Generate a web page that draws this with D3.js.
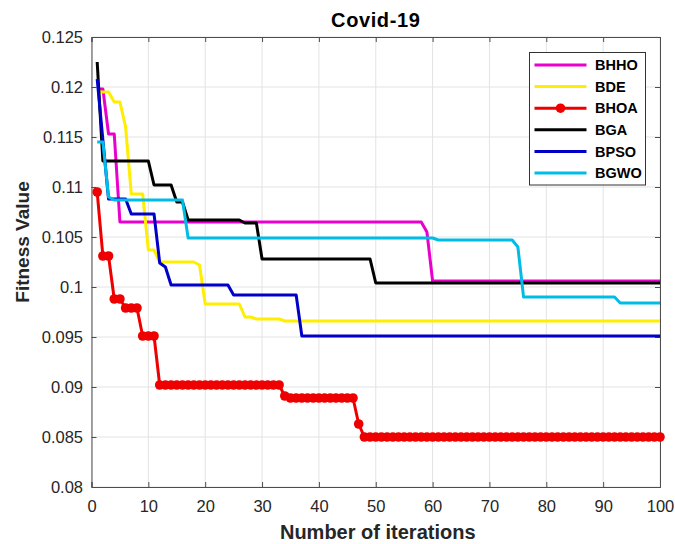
<!DOCTYPE html>
<html>
<head>
<meta charset="utf-8">
<script src="https://cdn.jsdelivr.net/npm/d3@7"></script>
<style>
  body { margin: 0; background: #fff; }
  svg { font-family: "Liberation Sans", Arial, sans-serif; }
</style>
</head>
<body>
<div id="chart"></div>
<script>
// fitness value per iteration (1..100)
var bhho = [
  0.1198,0.1198,0.1153,0.1153,0.1065,0.1065,0.1065,0.1065,0.1065,0.1065,
  0.1065,0.1065,0.1065,0.1065,0.1065,0.1065,0.1065,0.1065,0.1065,0.1065,
  0.1065,0.1065,0.1065,0.1065,0.1065,0.1065,0.1065,0.1065,0.1065,0.1065,
  0.1065,0.1065,0.1065,0.1065,0.1065,0.1065,0.1065,0.1065,0.1065,0.1065,
  0.1065,0.1065,0.1065,0.1065,0.1065,0.1065,0.1065,0.1065,0.1065,0.1065,
  0.1065,0.1065,0.1065,0.1065,0.1065,0.1065,0.1065,0.1065,0.1055,0.1006,
  0.1006,0.1006,0.1006,0.1006,0.1006,0.1006,0.1006,0.1006,0.1006,0.1006,
  0.1006,0.1006,0.1006,0.1006,0.1006,0.1006,0.1006,0.1006,0.1006,0.1006,
  0.1006,0.1006,0.1006,0.1006,0.1006,0.1006,0.1006,0.1006,0.1006,0.1006,
  0.1006,0.1006,0.1006,0.1006,0.1006,0.1006,0.1006,0.1006,0.1006,0.1006
];
var bde = [
  0.1195,0.1195,0.1195,0.1185,0.1185,0.1160,0.1093,0.1093,0.1093,0.1037,
  0.1037,0.1025,0.1025,0.1025,0.1025,0.1025,0.1025,0.1025,0.1022,0.0983,
  0.0983,0.0983,0.0983,0.0983,0.0983,0.0983,0.0970,0.0970,0.0968,0.0968,
  0.0968,0.0968,0.0968,0.0966,0.0966,0.0966,0.0966,0.0966,0.0966,0.0966,
  0.0966,0.0966,0.0966,0.0966,0.0966,0.0966,0.0966,0.0966,0.0966,0.0966,
  0.0966,0.0966,0.0966,0.0966,0.0966,0.0966,0.0966,0.0966,0.0966,0.0966,
  0.0966,0.0966,0.0966,0.0966,0.0966,0.0966,0.0966,0.0966,0.0966,0.0966,
  0.0966,0.0966,0.0966,0.0966,0.0966,0.0966,0.0966,0.0966,0.0966,0.0966,
  0.0966,0.0966,0.0966,0.0966,0.0966,0.0966,0.0966,0.0966,0.0966,0.0966,
  0.0966,0.0966,0.0966,0.0966,0.0966,0.0966,0.0966,0.0966,0.0966,0.0966
];
var bhoa = [
  0.1095,0.1031,0.1031,0.0988,0.0988,0.0979,0.0979,0.0979,0.0951,0.0951,
  0.0951,0.0902,0.0902,0.0902,0.0902,0.0902,0.0902,0.0902,0.0902,0.0902,
  0.0902,0.0902,0.0902,0.0902,0.0902,0.0902,0.0902,0.0902,0.0902,0.0902,
  0.0902,0.0902,0.0902,0.0891,0.0889,0.0889,0.0889,0.0889,0.0889,0.0889,
  0.0889,0.0889,0.0889,0.0889,0.0889,0.0889,0.0863,0.0850,0.0850,0.0850,
  0.0850,0.0850,0.0850,0.0850,0.0850,0.0850,0.0850,0.0850,0.0850,0.0850,
  0.0850,0.0850,0.0850,0.0850,0.0850,0.0850,0.0850,0.0850,0.0850,0.0850,
  0.0850,0.0850,0.0850,0.0850,0.0850,0.0850,0.0850,0.0850,0.0850,0.0850,
  0.0850,0.0850,0.0850,0.0850,0.0850,0.0850,0.0850,0.0850,0.0850,0.0850,
  0.0850,0.0850,0.0850,0.0850,0.0850,0.0850,0.0850,0.0850,0.0850,0.0850
];
var bga = [
  0.1225,0.1126,0.1126,0.1126,0.1126,0.1126,0.1126,0.1126,0.1126,0.1126,
  0.1102,0.1102,0.1102,0.1102,0.1085,0.1085,0.1067,0.1067,0.1067,0.1067,
  0.1067,0.1067,0.1067,0.1067,0.1067,0.1067,0.1064,0.1064,0.1064,0.1028,
  0.1028,0.1028,0.1028,0.1028,0.1028,0.1028,0.1028,0.1028,0.1028,0.1028,
  0.1028,0.1028,0.1028,0.1028,0.1028,0.1028,0.1028,0.1028,0.1028,0.1004,
  0.1004,0.1004,0.1004,0.1004,0.1004,0.1004,0.1004,0.1004,0.1004,0.1004,
  0.1004,0.1004,0.1004,0.1004,0.1004,0.1004,0.1004,0.1004,0.1004,0.1004,
  0.1004,0.1004,0.1004,0.1004,0.1004,0.1004,0.1004,0.1004,0.1004,0.1004,
  0.1004,0.1004,0.1004,0.1004,0.1004,0.1004,0.1004,0.1004,0.1004,0.1004,
  0.1004,0.1004,0.1004,0.1004,0.1004,0.1004,0.1004,0.1004,0.1004,0.1004
];
var bpso = [
  0.1208,0.1147,0.1088,0.1088,0.1088,0.1088,0.1073,0.1073,0.1073,0.1073,
  0.1073,0.1024,0.1020,0.1002,0.1002,0.1002,0.1002,0.1002,0.1002,0.1002,
  0.1002,0.1002,0.1002,0.1002,0.0992,0.0992,0.0992,0.0992,0.0992,0.0992,
  0.0992,0.0992,0.0992,0.0992,0.0992,0.0992,0.0951,0.0951,0.0951,0.0951,
  0.0951,0.0951,0.0951,0.0951,0.0951,0.0951,0.0951,0.0951,0.0951,0.0951,
  0.0951,0.0951,0.0951,0.0951,0.0951,0.0951,0.0951,0.0951,0.0951,0.0951,
  0.0951,0.0951,0.0951,0.0951,0.0951,0.0951,0.0951,0.0951,0.0951,0.0951,
  0.0951,0.0951,0.0951,0.0951,0.0951,0.0951,0.0951,0.0951,0.0951,0.0951,
  0.0951,0.0951,0.0951,0.0951,0.0951,0.0951,0.0951,0.0951,0.0951,0.0951,
  0.0951,0.0951,0.0951,0.0951,0.0951,0.0951,0.0951,0.0951,0.0951,0.0951
];
var bgwo = [
  0.1145,0.1145,0.1090,0.1087,0.1087,0.1087,0.1087,0.1087,0.1087,0.1087,
  0.1087,0.1087,0.1087,0.1087,0.1087,0.1087,0.1049,0.1049,0.1049,0.1049,
  0.1049,0.1049,0.1049,0.1049,0.1049,0.1049,0.1049,0.1049,0.1049,0.1049,
  0.1049,0.1049,0.1049,0.1049,0.1049,0.1049,0.1049,0.1049,0.1049,0.1049,
  0.1049,0.1049,0.1049,0.1049,0.1049,0.1049,0.1049,0.1049,0.1049,0.1049,
  0.1049,0.1049,0.1049,0.1049,0.1049,0.1049,0.1049,0.1049,0.1049,0.1049,
  0.1047,0.1047,0.1047,0.1047,0.1047,0.1047,0.1047,0.1047,0.1047,0.1047,
  0.1047,0.1047,0.1047,0.1047,0.1040,0.0990,0.0990,0.0990,0.0990,0.0990,
  0.0990,0.0990,0.0990,0.0990,0.0990,0.0990,0.0990,0.0990,0.0990,0.0990,
  0.0990,0.0990,0.0984,0.0984,0.0984,0.0984,0.0984,0.0984,0.0984,0.0984
];

var seriesNames = ["BHHO", "BDE", "BHOA", "BGA", "BPSO", "BGWO"];
var seriesValues = [bhho, bde, bhoa, bga, bpso, bgwo];
var seriesColors = ["#ea00cc", "#ffee00", "#ee0000", "#000000", "#0000c8", "#00bde6"];
var xTicks = [0, 10, 20, 30, 40, 50, 60, 70, 80, 90, 100];
var yTicks = [0.08, 0.085, 0.09, 0.095, 0.1, 0.105, 0.11, 0.115, 0.12, 0.125];

const W = 675, H = 544;
const margin = {left: 91.5, right: 15, top: 37, bottom: 57};

var svg = d3.select("#chart").append("svg")
  .attr("width", W).attr("height", H);

var x = d3.scaleLinear().domain([0, 100]).range([margin.left, W - margin.right]);
var y = d3.scaleLinear().domain([0.08, 0.125]).range([H - margin.bottom, margin.top]);

// grid
var grid = svg.append("g");
grid.selectAll(".gx").data(xTicks).join("line")
  .attr("x1", d => x(d)).attr("x2", d => x(d))
  .attr("y1", y(0.08)).attr("y2", y(0.125))
  .attr("stroke", "#e3e3e3").attr("stroke-width", 1);
grid.selectAll(".gy").data(yTicks).join("line")
  .attr("x1", x(0)).attr("x2", x(100))
  .attr("y1", d => y(d)).attr("y2", d => y(d))
  .attr("stroke", "#e3e3e3").attr("stroke-width", 1);

// axes
var fmt = d => String(+d.toFixed(3));
var axisColor = "#262626";
var gx = svg.append("g").attr("transform", `translate(0,${y(0.08)})`)
  .call(d3.axisBottom(x).tickValues(xTicks).tickSize(-5).tickPadding(13));
var gy = svg.append("g").attr("transform", `translate(${x(0)},0)`)
  .call(d3.axisLeft(y).tickValues(yTicks).tickFormat(fmt).tickSize(-5).tickPadding(8.5));
var gt = svg.append("g").attr("transform", `translate(0,${y(0.125)})`)
  .call(d3.axisTop(x).tickValues(xTicks).tickSize(-5).tickFormat(""));
var gr = svg.append("g").attr("transform", `translate(${x(100)},0)`)
  .call(d3.axisRight(y).tickValues(yTicks).tickSize(-5).tickFormat(""));
[gx, gy, gt, gr].forEach(g => {
  g.select(".domain").attr("stroke", "#4d4d4d").attr("stroke-width", 1);
  g.selectAll(".tick line").attr("stroke", "#4d4d4d");
  g.selectAll("text").attr("font-size", 16.5).attr("fill", axisColor)
    .attr("font-family", "Liberation Sans, Arial, sans-serif");
});

// lines
var line = d3.line()
  .x((d, i) => x(i + 1))
  .y(d => y(d));

var plot = svg.append("g");
seriesValues.forEach((vals, k) => {
  plot.append("path")
    .datum(vals)
    .attr("fill", "none")
    .attr("stroke", seriesColors[k])
    .attr("stroke-width", 3)
    .attr("stroke-linejoin", "round")
    .attr("d", line);
  if (seriesNames[k] === "BHOA") {
    plot.selectAll(".mk").data(vals).join("circle")
      .attr("cx", (d, i) => x(i + 1))
      .attr("cy", d => y(d))
      .attr("r", 4.8)
      .attr("fill", seriesColors[k]);
  }
});

// title and labels
svg.append("text").attr("x", (x(0) + x(100)) / 2).attr("y", 26.5)
  .attr("text-anchor", "middle").attr("font-size", 20).attr("font-weight", "bold")
  .attr("letter-spacing", 0.6).attr("fill", "#000").text("Covid-19");
svg.append("text").attr("x", (x(0) + x(100)) / 2 + 2).attr("y", 539)
  .attr("text-anchor", "middle").attr("font-size", 20).attr("font-weight", "bold")
  .attr("fill", axisColor).text("Number of iterations");
svg.append("text")
  .attr("transform", `translate(29,${(y(0.08) + y(0.125)) / 2 - 20}) rotate(-90)`)
  .attr("text-anchor", "middle").attr("font-size", 19).attr("font-weight", "bold")
  .attr("fill", axisColor).text("Fitness Value");

// legend
var lg = svg.append("g").attr("transform", "translate(529.5,52.5)");
lg.append("rect").attr("width", 116).attr("height", 132.5)
  .attr("fill", "#fff").attr("stroke", "#333").attr("stroke-width", 1);
seriesNames.forEach((name, k) => {
  var yy = 12.5 + k * 21.6;
  lg.append("line").attr("x1", 5).attr("x2", 57).attr("y1", yy).attr("y2", yy)
    .attr("stroke", seriesColors[k]).attr("stroke-width", 3);
  if (name === "BHOA") {
    lg.append("circle").attr("cx", 31).attr("cy", yy).attr("r", 4.8).attr("fill", seriesColors[k]);
  }
  lg.append("text").attr("x", 65.5).attr("y", yy + 5.2).attr("font-size", 14.5)
    .attr("font-weight", "bold").attr("fill", "#000").text(name);
});
</script>
</body>
</html>
